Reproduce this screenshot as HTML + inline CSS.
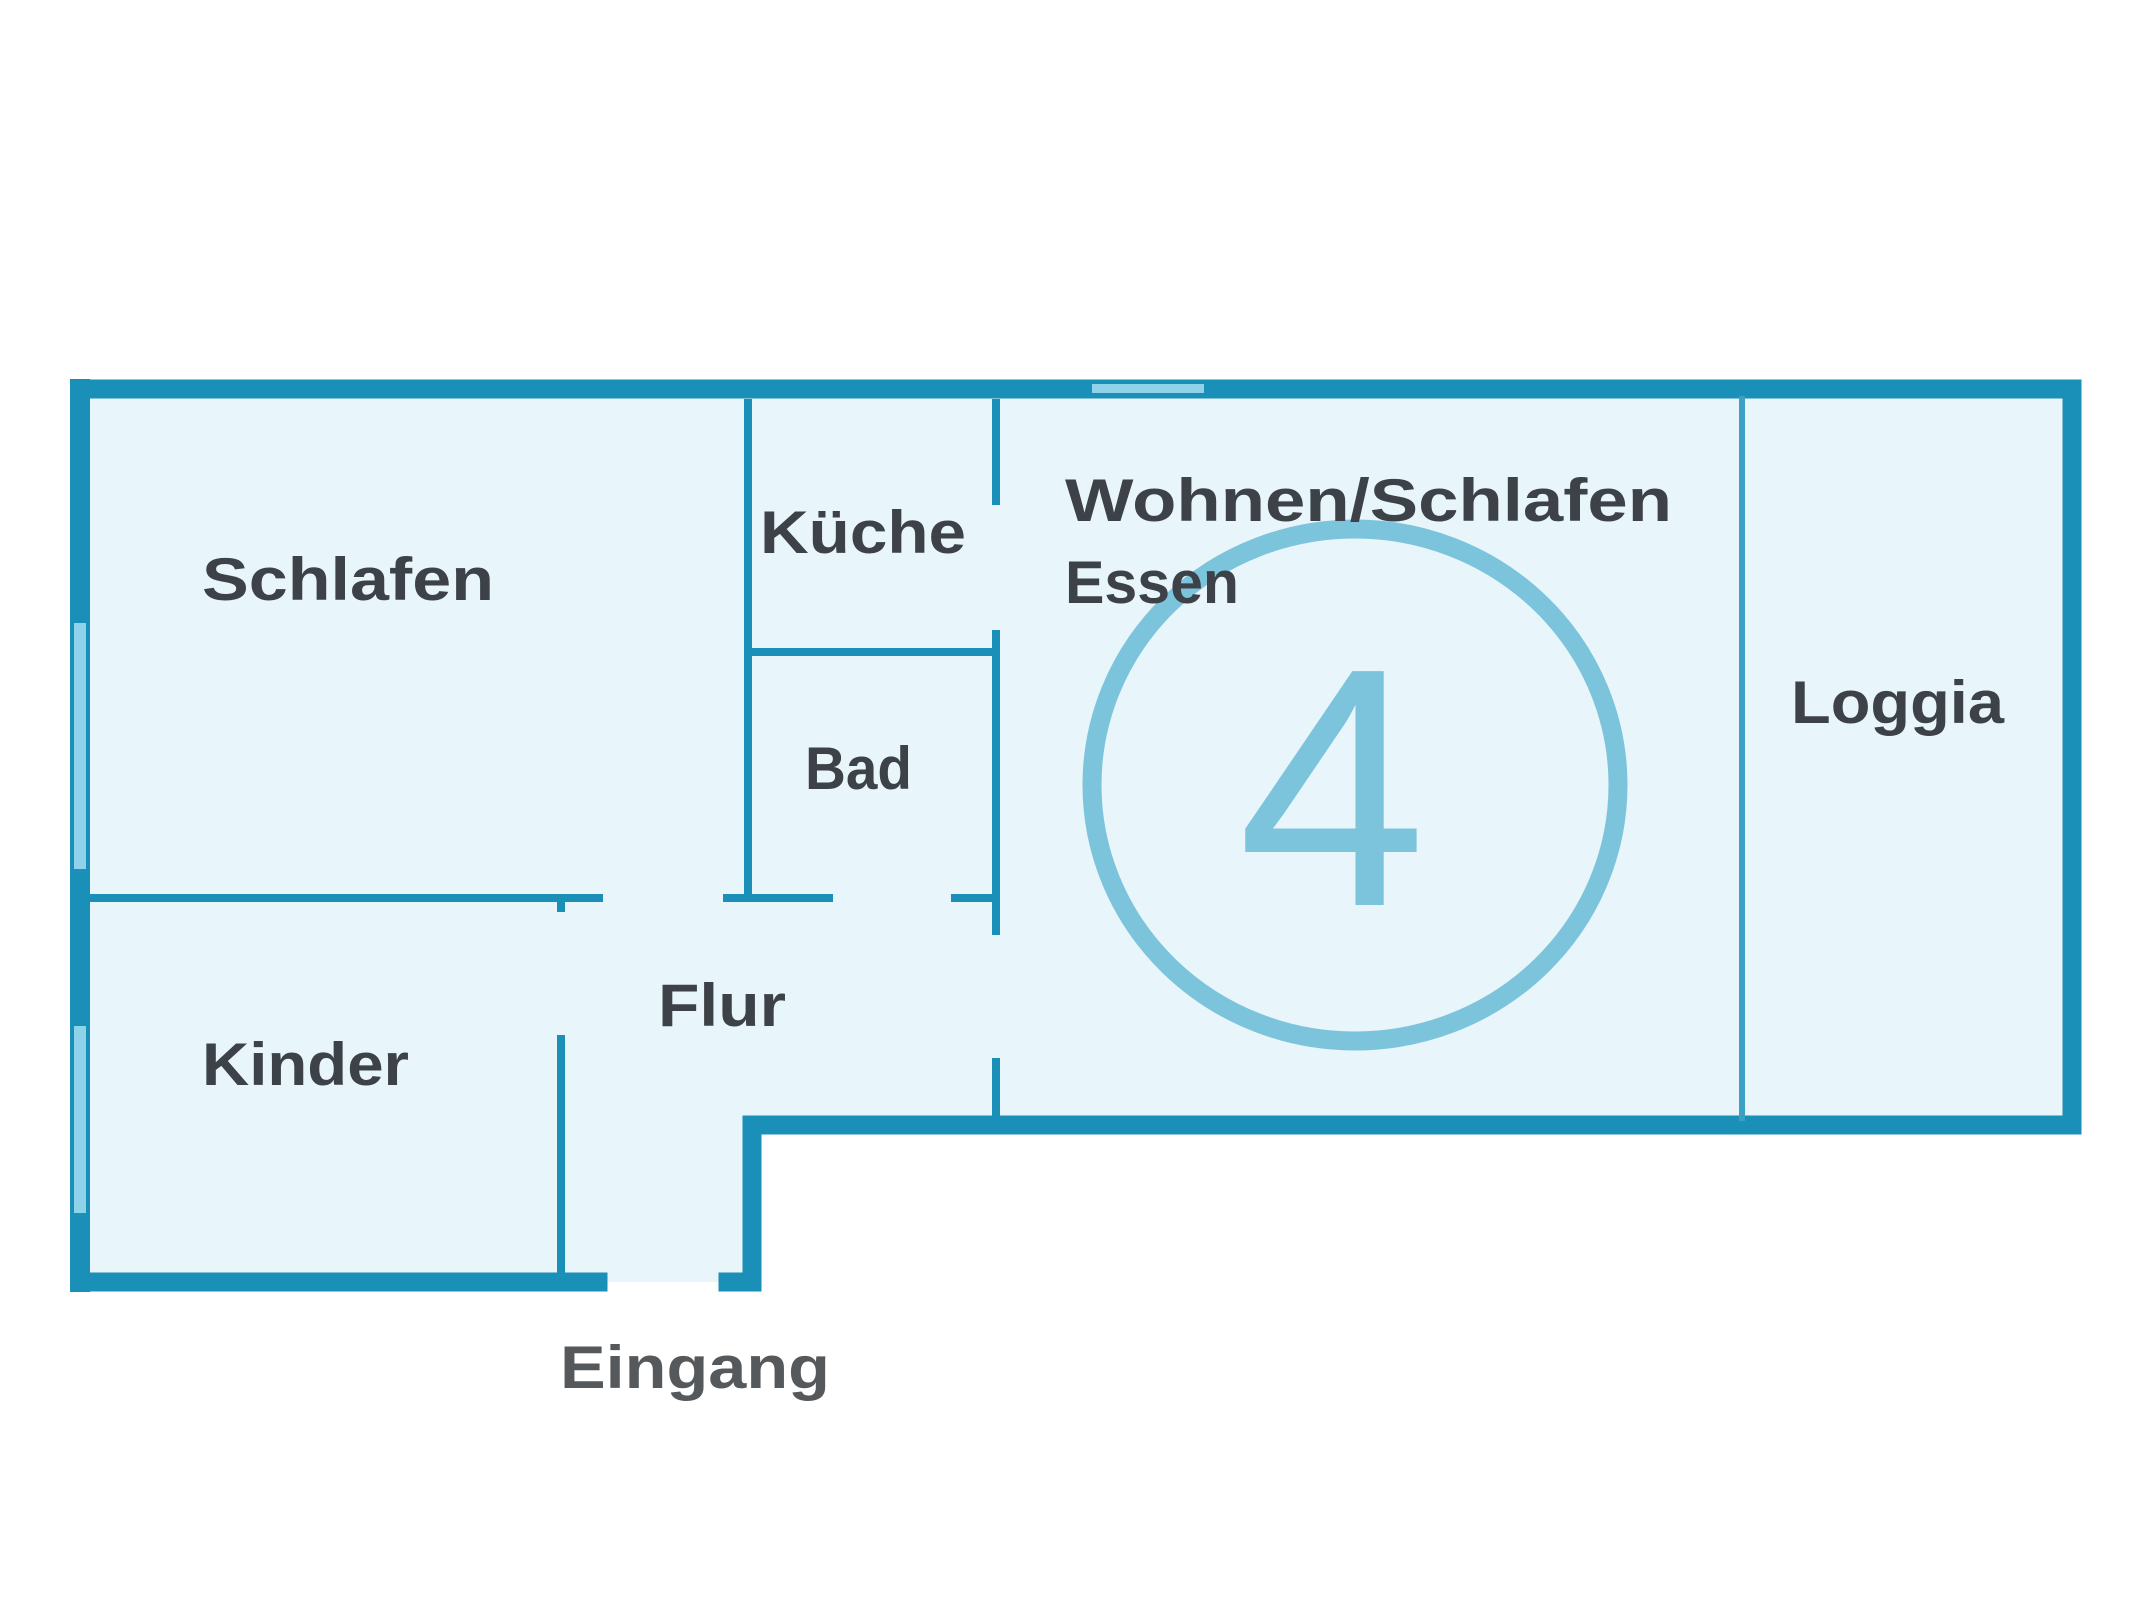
<!DOCTYPE html>
<html><head><meta charset="utf-8"><style>
html,body{margin:0;padding:0;background:#fff;width:2140px;height:1600px;overflow:hidden}
text{font-family:"Liberation Sans",sans-serif;font-weight:bold;fill:#3c4247}
</style></head><body>
<svg width="2140" height="1600" viewBox="0 0 2140 1600" xmlns="http://www.w3.org/2000/svg">
<rect width="2140" height="1600" fill="#fff"/>
<!-- floor fill -->
<path d="M80 389 H2072 V1125 H752 V1282 H80 Z" fill="#e8f5fa"/>
<g stroke="#1a8fb8" fill="none" stroke-linecap="square">
<!-- outer walls -->
<path d="M80 389 H2072 V1125 H752 V1282" stroke-width="19"/>
<line x1="80" y1="389" x2="80" y2="1282" stroke-width="20"/>
<line x1="80" y1="1282" x2="598" y2="1282" stroke-width="19"/>
<line x1="728" y1="1282" x2="752" y2="1282" stroke-width="19"/>
<!-- interior walls -->
<g stroke-width="8" stroke-linecap="butt">
<line x1="90" y1="898" x2="603" y2="898"/>
<line x1="561" y1="898" x2="561" y2="912"/>
<line x1="748" y1="399" x2="748" y2="898"/>
<line x1="723" y1="898" x2="833" y2="898"/>
<line x1="748" y1="652" x2="996" y2="652"/>
<line x1="996" y1="399" x2="996" y2="505"/>
<line x1="996" y1="630" x2="996" y2="935"/>
<line x1="996" y1="1058" x2="996" y2="1120"/>
<line x1="951" y1="898" x2="996" y2="898"/>
<line x1="561" y1="1035" x2="561" y2="1280"/>
</g>
<line x1="1742" y1="399" x2="1742" y2="1118" stroke-width="6" stroke="#3aa0c4"/>
</g>
<!-- windows -->
<rect x="1092" y="384" width="112" height="9" fill="#8fd3ea"/>
<rect x="74" y="623" width="12" height="246" fill="#8fd3ea"/>
<rect x="74" y="1026" width="12" height="187" fill="#8fd3ea"/>
<!-- circle 4 -->
<ellipse cx="1355" cy="785" rx="263" ry="256" fill="none" stroke="#7cc4dc" stroke-width="19"/>
<text x="1332" y="905" font-size="340" text-anchor="middle" style="fill:#7cc4dc;font-weight:normal">4</text>
<!-- labels -->
<text x="202" y="600" font-size="60" textLength="292" lengthAdjust="spacingAndGlyphs">Schlafen</text>
<text x="760" y="553" font-size="60" textLength="206" lengthAdjust="spacingAndGlyphs">Küche</text>
<text x="1065" y="521" font-size="60" textLength="607" lengthAdjust="spacingAndGlyphs">Wohnen/Schlafen</text>
<text x="1065" y="603" font-size="60" textLength="174" lengthAdjust="spacingAndGlyphs">Essen</text>
<text x="805" y="789" font-size="60" textLength="107" lengthAdjust="spacingAndGlyphs">Bad</text>
<text x="1791" y="723" font-size="60" textLength="213" lengthAdjust="spacingAndGlyphs">Loggia</text>
<text x="658" y="1026" font-size="60" textLength="128" lengthAdjust="spacingAndGlyphs">Flur</text>
<text x="202" y="1085" font-size="60" textLength="207" lengthAdjust="spacingAndGlyphs">Kinder</text>
<text x="560" y="1388" font-size="60" textLength="270" lengthAdjust="spacingAndGlyphs" style="fill:#55595c">Eingang</text>
</svg>
</body></html>
